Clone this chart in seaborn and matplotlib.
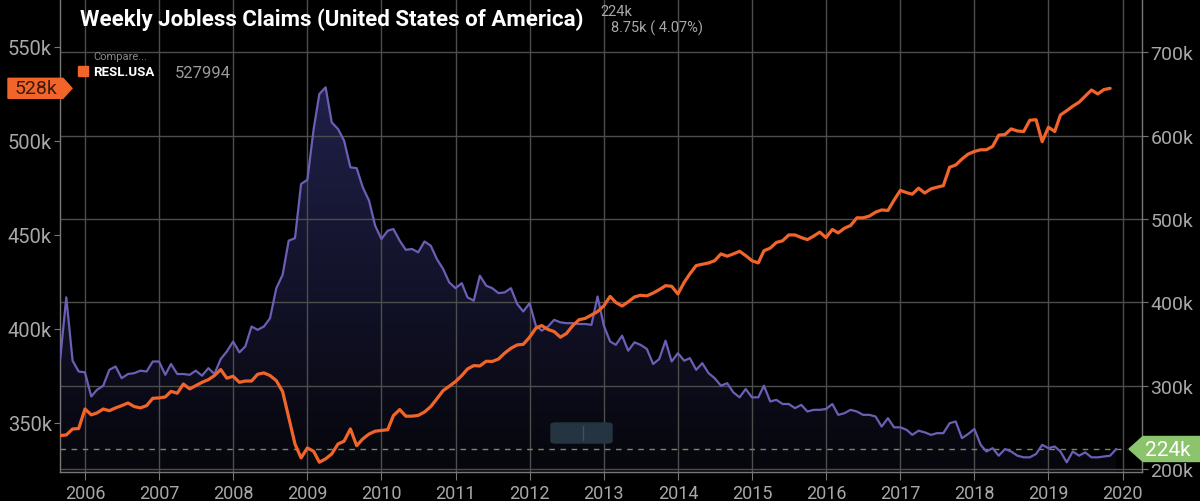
import matplotlib
matplotlib.use('Agg')
import matplotlib.pyplot as plt
import matplotlib.dates as mdates
from matplotlib.ticker import FuncFormatter
from matplotlib.patches import Polygon, FancyBboxPatch
from matplotlib.colors import LinearSegmentedColormap
import numpy as np
import pandas as pd
import seaborn as sns

# monthly points, starting Sep 2005 (values in thousands)
start = '2005-09-01'
claims_k = [332, 406, 330, 317, 316, 287, 295, 300, 319, 323, 309, 314, 315, 318, 317, 329,
            329, 313, 326, 314, 314, 313, 318, 312, 321, 314, 332, 341, 353, 340, 347, 371,
            367, 371, 381, 417, 433, 474, 477, 542, 547, 608, 650, 658, 616, 608, 594, 562,
            561, 538, 522, 492, 476, 486, 488, 474, 463, 464, 460, 473, 468, 452, 440, 424,
            417, 423, 406, 402, 432, 420, 417, 411, 412, 417, 398, 389, 399, 372, 366, 371,
            379, 376, 375, 375, 374, 374, 373, 407, 372, 353, 349, 360, 342, 352, 349, 344,
            326, 332, 354, 329, 339, 330, 333, 319, 327, 315, 309, 300, 303, 292, 286, 296,
            286, 286, 300, 281, 283, 278, 278, 273, 277, 269, 271, 271, 272, 278, 265, 267,
            271, 269, 265, 265, 263, 251, 261, 250, 250, 247, 241, 246, 244, 241, 243, 243,
            255, 257, 237, 242, 248, 229, 221, 225, 216, 224, 221, 216, 214, 214, 218, 229,
            225, 227, 221, 208, 221, 216, 220, 214, 214, 215, 216, 224]
resl_k = [343.3, 343.6, 346.8, 347.0, 357.4, 354.3, 355.3, 357.4, 356.5, 358.0, 359.2, 360.6,
          358.7, 358.0, 359.2, 363.1, 363.3, 363.8, 366.8, 365.8, 370.7, 368.1, 369.8, 371.6,
          373.0, 375.2, 378.4, 373.8, 374.8, 371.6, 372.3, 372.3, 375.9, 376.6, 375.2, 372.5,
          366.7, 353.0, 338.8, 331.4, 336.7, 334.9, 329.1, 330.9, 333.5, 338.8, 340.3, 346.8,
          337.9, 341.5, 344.1, 345.6, 346.0, 346.4, 353.9, 357.1, 353.6, 353.6, 354.0, 355.8,
          358.7, 362.8, 367.2, 369.5, 372.0, 375.2, 378.7, 380.5, 380.3, 382.8, 382.7, 384.0,
          387.2, 389.7, 391.5, 391.8, 395.6, 400.4, 401.8, 399.7, 398.6, 395.6, 397.6, 401.8,
          404.9, 405.6, 407.4, 409.2, 412.3, 417.3, 414.1, 412.2, 414.4, 417.0, 417.9, 417.6,
          419.1, 420.9, 423.0, 422.7, 418.6, 424.8, 429.3, 433.7, 434.4, 435.1, 436.3, 439.9,
          438.7, 439.9, 441.3, 439.0, 436.3, 435.1, 441.6, 443.0, 446.0, 446.9, 450.0, 450.0,
          448.6, 447.5, 449.4, 451.5, 448.6, 452.9, 451.1, 453.6, 455.0, 459.1, 459.1, 460.0,
          462.1, 463.3, 463.0, 468.5, 473.7, 472.5, 471.7, 474.9, 472.3, 474.5, 475.4, 476.2,
          486.0, 487.2, 490.4, 493.0, 494.4, 495.3, 495.3, 497.1, 503.1, 503.4, 506.4, 505.3,
          505.0, 511.0, 511.3, 499.6, 507.3, 505.0, 513.8, 516.1, 518.5, 520.6, 523.8, 527.1,
          525.0, 527.3, 527.994]

title = 'Weekly Jobless Claims (United States of America)'
last_claims_txt = '224k'
change_txt = '8.75k ( 4.07%)'
compare_txt = 'Compare...'
series_name = 'RESL.USA'
series_last_txt = '527994'
claims_ticks = [200000, 300000, 400000, 500000, 600000, 700000]
resl_ticks = [350000, 400000, 450000, 500000, 550000]

PURPLE = '#6a5fb4'
ORANGE = '#f2652a'
GREEN = '#8cc46e'
GRID = '#4d4d4d'
TXT = '#a8a8a8'

sns.set_style('dark', rc={'axes.facecolor': 'black', 'figure.facecolor': 'black'})
plt.rcParams['font.family'] = ['Roboto', 'DejaVu Sans']

W, H = 1200, 502
claims = pd.DataFrame({'date': pd.date_range(start, periods=len(claims_k), freq='MS'),
                       'value': np.array(claims_k) * 1000.0})
resl = pd.DataFrame({'date': pd.date_range(start, periods=len(resl_k), freq='MS'),
                     'value': np.array(resl_k) * 1000.0})

fig = plt.figure(figsize=(W / 100, H / 100), dpi=100, facecolor='black')
ax = fig.add_axes([60 / W, 29 / H, 1082 / W, 473 / H])
ax2 = ax.twinx()

xlim = (pd.Timestamp('2005-08-31'), pd.Timestamp('2020-04-06'))
ylim_c = (196400, 764000)
ylim_r = (323900, 575500)

# claims on the main axis (scale on the right)
sns.lineplot(data=claims, x='date', y='value', ax=ax, color=PURPLE, lw=1.6, zorder=3)
poly = ax.fill_between(claims['date'], claims['value'], ylim_c[0], color='none', lw=0)
cmap = LinearSegmentedColormap.from_list('fade', ['#06060c', '#20204a'])
xn = mdates.date2num(xlim)
grad = ax.imshow(np.linspace(0, 1, 256)[:, None], cmap=cmap, aspect='auto', origin='lower',
                 extent=[xn[0], xn[1], ylim_c[0], 660000], zorder=0.2)
grad.set_clip_path(poly.get_paths()[0], ax.transData)
ax.axhline(224000, xmax=0.986, color='#6f8f63', lw=1, ls=(0, (4, 4)), zorder=2)

# RESL on the twin axis (scale on the left)
sns.lineplot(data=resl, x='date', y='value', ax=ax2, color=ORANGE, lw=2.3, zorder=4)

ax.set_xlim(*xlim)
ax.set_ylim(*ylim_c)
ax2.set_ylim(*ylim_r)

kfmt = FuncFormatter(lambda v, p: f'{v / 1000:.0f}k')
ax.yaxis.tick_right()
ax.set_yticks(claims_ticks)
ax.yaxis.set_major_formatter(kfmt)
ax2.yaxis.tick_left()
ax2.set_yticks(resl_ticks)
ax2.yaxis.set_major_formatter(kfmt)
ax.xaxis.set_major_locator(mdates.YearLocator())
ax.xaxis.set_major_formatter(mdates.DateFormatter('%Y'))

ax.grid(True, color=GRID, lw=1)
ax.set_axisbelow(True)
ax2.grid(False)
for a in (ax, ax2):
    a.set_xlabel('')
    a.set_ylabel('')
for s in ax2.spines.values():
    s.set_visible(False)
ax.spines['top'].set_visible(False)
for s in ('left', 'right', 'bottom'):
    ax.spines[s].set_visible(True)
    ax.spines[s].set_color('#777777')
    ax.spines[s].set_linewidth(1)

ax.tick_params(axis='y', right=True, length=4, color='#777777', labelcolor=TXT,
               labelsize=14, pad=2)
ax2.tick_params(axis='y', left=True, length=4, color='#777777', labelcolor=TXT,
                labelsize=14.5, pad=2)
ax.tick_params(axis='x', bottom=True, length=6, color='#777777', labelcolor=TXT,
               labelsize=13, pad=3)

# header texts
fig.text(80 / W, 1 - 20 / H, title, color='white', fontsize=16, weight='bold',
         va='center', family=['Roboto', 'DejaVu Sans'])
fig.text(600 / W, 1 - 12 / H, last_claims_txt, color=TXT, fontsize=10.5, va='center')
fig.text(611 / W, 1 - 28 / H, change_txt, color=TXT, fontsize=10.5, va='center')
fig.text(93 / W, 1 - 57 / H, compare_txt, color='#8a8a8a', fontsize=8, va='center')
fig.patches.append(FancyBboxPatch((78 / W, 1 - 77 / H), 10 / W, 10 / H, boxstyle='square,pad=0',
                                  transform=fig.transFigure, color=ORANGE, figure=fig))
fig.text(93 / W, 1 - 73 / H, series_name, color='white', fontsize=9.5, weight='bold', va='center')
fig.text(175 / W, 1 - 73 / H, series_last_txt, color='#9a9a9a', fontsize=12, va='center')

# value badges at the last values
fig.canvas.draw()
yl = ax2.transData.transform((0, resl['value'].iloc[-1]))[1]
yr = ax.transData.transform((0, claims['value'].iloc[-1]))[1]
left_pts = np.array([(8, yl - 10), (63, yl - 10), (72, yl), (63, yl + 10), (8, yl + 10)])
right_pts = np.array([(1129, yr), (1143, yr + 12.5), (1200, yr + 12.5), (1200, yr - 12.5),
                      (1143, yr - 12.5)])
fig.patches.append(Polygon(left_pts / [W, H], closed=True, color=ORANGE,
                           transform=fig.transFigure, figure=fig))
fig.patches.append(Polygon(right_pts / [W, H], closed=True, color=GREEN,
                           transform=fig.transFigure, figure=fig))
fig.text(36 / W, yl / H, f"{resl['value'].iloc[-1] / 1000:.0f}k", color='#3a1b0c',
         fontsize=14, ha='center', va='center')
fig.text(1145 / W, yr / H, f"{claims['value'].iloc[-1] / 1000:.0f}k", color='white',
         fontsize=15, ha='left', va='center')

# navigator handle
fig.patches.append(FancyBboxPatch((551 / W, 1 - 444 / H), 61 / W, 20 / H,
                                  boxstyle='round,pad=0,rounding_size=0.004',
                                  transform=fig.transFigure, color='#243541', figure=fig))
fig.lines.append(plt.Line2D([583 / W, 583 / W], [1 - 441 / H, 1 - 427 / H],
                            transform=fig.transFigure, color='#3d5260', lw=1, figure=fig))

fig.savefig('out.png', dpi=100, facecolor='black')
